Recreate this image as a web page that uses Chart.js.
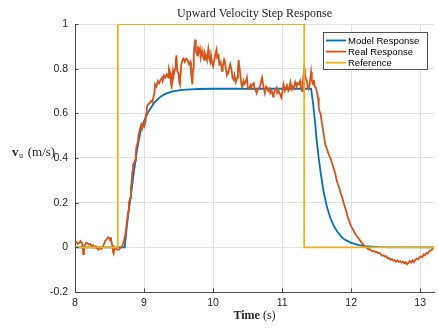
<!DOCTYPE html>
<html>
<head>
<meta charset="utf-8">
<script src="https://cdn.jsdelivr.net/npm/chart.js@4.4.1/dist/chart.umd.min.js"></script>
<style>
  body { margin: 0; background: #fff; }
  #grafico { display: block; }
</style>
</head>
<body>
<canvas id="grafico" width="438" height="329"></canvas>
<script>
// dados
var xTicks = [8, 9, 10, 11, 12, 13]
var yTicks = [-0.2, 0, 0.2, 0.4, 0.6, 0.8, 1]

var refTempo = [8, 8.62, 11.32, 13.2]
var refValor = [0, 1, 0, 0]

var modeloTempo = [8, 8.72, 8.75, 8.78, 8.80, 8.85, 8.90, 8.95, 9.00, 9.05, 9.10, 9.15, 9.20, 9.25, 9.30, 9.40, 9.50, 9.60, 9.80, 10.0,
    11.42, 11.45, 11.48, 11.50, 11.53, 11.56, 11.60, 11.65, 11.70, 11.75, 11.80, 11.85, 11.90, 12.0, 12.1, 12.2, 12.4, 13.2]
var modeloValor = [0, 0, 0.09, 0.17, 0.21, 0.33, 0.44, 0.52, 0.565, 0.60, 0.625, 0.648, 0.664, 0.677, 0.686, 0.697, 0.703, 0.706, 0.709, 0.71,
    0.71, 0.64, 0.55, 0.48, 0.40, 0.33, 0.25, 0.18, 0.13, 0.095, 0.07, 0.05, 0.036, 0.02, 0.011, 0.005, 0.001, 0]

var realTempo = [8.00, 8.02, 8.04, 8.06, 8.08, 8.10, 8.11, 8.12, 8.13, 8.14, 8.16, 8.18, 8.20, 8.22, 8.24, 8.26, 8.28, 8.30, 8.32, 8.34,
    8.36, 8.38, 8.40, 8.42, 8.44, 8.46, 8.48, 8.50, 8.51, 8.52, 8.53, 8.54, 8.55, 8.56, 8.57, 8.59, 8.61, 8.63, 8.65, 8.67,
    8.69, 8.71, 8.73, 8.75, 8.77, 8.78, 8.80, 8.81, 8.82, 8.83, 8.84, 8.86, 8.87, 8.88, 8.89, 8.91, 8.92, 8.94, 8.96, 8.97,
    8.99, 9.00, 9.02, 9.03, 9.04, 9.06, 9.08, 9.10, 9.12, 9.13, 9.15, 9.16, 9.18, 9.20, 9.22, 9.24, 9.26, 9.27, 9.29, 9.31,
    9.33, 9.35, 9.36, 9.38, 9.39, 9.40, 9.42, 9.43, 9.45, 9.46, 9.47, 9.48, 9.50, 9.51, 9.52, 9.54, 9.56, 9.57, 9.59, 9.61,
    9.63, 9.65, 9.67, 9.68, 9.70, 9.71, 9.72, 9.73, 9.74, 9.75, 9.77, 9.78, 9.79, 9.81, 9.82, 9.84, 9.85, 9.87, 9.88, 9.90,
    9.91, 9.93, 9.94, 9.96, 9.97, 9.99, 10.00, 10.02, 10.03, 10.05, 10.06, 10.08, 10.09, 10.11, 10.13, 10.14, 10.16, 10.17, 10.19, 10.20,
    10.22, 10.24, 10.25, 10.27, 10.28, 10.30, 10.31, 10.33, 10.35, 10.36, 10.37, 10.38, 10.40, 10.41, 10.42, 10.44, 10.45, 10.47, 10.49, 10.50,
    10.52, 10.54, 10.55, 10.57, 10.59, 10.60, 10.62, 10.63, 10.65, 10.67, 10.68, 10.70, 10.71, 10.73, 10.75, 10.77, 10.78, 10.80, 10.82, 10.83,
    10.85, 10.87, 10.88, 10.90, 10.92, 10.93, 10.95, 10.97, 10.99, 11.00, 11.02, 11.04, 11.05, 11.07, 11.09, 11.10, 11.12, 11.14, 11.15, 11.17,
    11.19, 11.21, 11.22, 11.24, 11.26, 11.27, 11.29, 11.30, 11.32, 11.33, 11.34, 11.36, 11.37, 11.38, 11.40, 11.41, 11.42, 11.43, 11.45, 11.46,
    11.47, 11.49, 11.50, 11.52, 11.53, 11.54, 11.56, 11.57, 11.59, 11.60, 11.62, 11.63, 11.65, 11.67, 11.69, 11.70, 11.72, 11.74, 11.76, 11.77,
    11.79, 11.81, 11.83, 11.85, 11.87, 11.89, 11.91, 11.93, 11.95, 11.97, 11.99, 12.01, 12.03, 12.05, 12.07, 12.09, 12.11, 12.13, 12.15, 12.17,
    12.19, 12.21, 12.23, 12.25, 12.27, 12.29, 12.31, 12.33, 12.35, 12.37, 12.39, 12.41, 12.43, 12.45, 12.47, 12.49, 12.51, 12.53, 12.55, 12.57,
    12.59, 12.61, 12.63, 12.65, 12.67, 12.69, 12.71, 12.73, 12.75, 12.77, 12.79, 12.81, 12.83, 12.85, 12.87, 12.89, 12.91, 12.93, 12.95, 12.97,
    12.99, 13.01, 13.03, 13.05, 13.07, 13.09, 13.11, 13.13, 13.15, 13.17, 13.19, 13.20]
var realValor = [0.02, 0.025, 0.015, 0.02, 0.028, 0.02, 0.0, -0.03, -0.02, 0.01, 0.02, 0.018, 0.012, 0.015, 0.005, 0.01, -0.002, 0.005, -0.005, -0.01,
    0.0, -0.008, 0.0, 0.015, 0.03, 0.035, 0.045, 0.04, 0.03, 0.045, 0.02, 0.01, -0.02, -0.028, -0.01, -0.005, -0.01, -0.012, -0.005, 0.0,
    0.01, 0.03, 0.06, 0.11, 0.16, 0.2, 0.22, 0.27, 0.29, 0.34, 0.37, 0.38, 0.39, 0.42, 0.45, 0.47, 0.5, 0.53, 0.55, 0.54,
    0.55, 0.54, 0.56, 0.6, 0.63, 0.64, 0.645, 0.655, 0.65, 0.665, 0.69, 0.73, 0.72, 0.745, 0.735, 0.75, 0.76, 0.745, 0.77, 0.76,
    0.775, 0.76, 0.8, 0.78, 0.73, 0.72, 0.79, 0.77, 0.8, 0.84, 0.86, 0.79, 0.78, 0.74, 0.73, 0.82, 0.84, 0.845, 0.83, 0.845,
    0.84, 0.82, 0.83, 0.78, 0.73, 0.8, 0.86, 0.9, 0.93, 0.88, 0.86, 0.9, 0.87, 0.89, 0.85, 0.88, 0.86, 0.84, 0.87, 0.85,
    0.84, 0.885, 0.85, 0.83, 0.86, 0.82, 0.81, 0.84, 0.86, 0.885, 0.85, 0.86, 0.82, 0.83, 0.79, 0.81, 0.84, 0.83, 0.79, 0.77,
    0.78, 0.81, 0.82, 0.79, 0.76, 0.75, 0.77, 0.74, 0.76, 0.8, 0.84, 0.81, 0.76, 0.73, 0.72, 0.745, 0.73, 0.74, 0.76, 0.72,
    0.71, 0.725, 0.715, 0.73, 0.735, 0.71, 0.70, 0.69, 0.71, 0.715, 0.72, 0.75, 0.76, 0.72, 0.69, 0.72, 0.715, 0.70, 0.71, 0.69,
    0.70, 0.675, 0.69, 0.705, 0.715, 0.69, 0.70, 0.685, 0.67, 0.69, 0.73, 0.70, 0.71, 0.725, 0.70, 0.705, 0.74, 0.71, 0.72, 0.71,
    0.74, 0.72, 0.735, 0.73, 0.745, 0.72, 0.70, 0.74, 0.80, 0.78, 0.76, 0.745, 0.72, 0.71, 0.73, 0.76, 0.785, 0.75, 0.73, 0.75,
    0.72, 0.715, 0.70, 0.67, 0.63, 0.61, 0.595, 0.57, 0.53, 0.51, 0.47, 0.455, 0.44, 0.42, 0.405, 0.40, 0.38, 0.36, 0.34, 0.33,
    0.30, 0.28, 0.265, 0.24, 0.225, 0.20, 0.18, 0.16, 0.135, 0.12, 0.10, 0.088, 0.078, 0.065, 0.055, 0.047, 0.04, 0.03, 0.022, 0.015,
    0.008, 0.002, -0.003, -0.01, -0.008, -0.015, -0.018, -0.016, -0.022, -0.02, -0.026, -0.024, -0.032, -0.038, -0.036, -0.042, -0.04, -0.05, -0.048, -0.056,
    -0.052, -0.06, -0.057, -0.064, -0.058, -0.066, -0.062, -0.068, -0.064, -0.072, -0.066, -0.076, -0.07, -0.06, -0.068, -0.058, -0.066, -0.055, -0.05, -0.054,
    -0.045, -0.04, -0.044, -0.032, -0.035, -0.025, -0.028, -0.018, -0.014, -0.01, -0.004, -0.002]

var azul = '#0072BD'
var laranja = '#D95319'
var amarelo = '#EDB120'
var corTexto = '#262626'
var fonteSerif = '"Liberation Serif", "DejaVu Serif", serif'
var fonteSans = '"Liberation Sans", Arial, sans-serif'
var espessura = 1.8

function pontos(tempos, valores) {
    var lista = []
    for (var i = 0; i < tempos.length; i++) {
        lista.push({ x: tempos[i], y: valores[i] })
    }
    return lista
}

// titulo, rotulos dos eixos, legenda e marcas internas
var extras = {
    id: 'extras',
    afterDraw: function (chart) {
        var ctx = chart.ctx
        var area = chart.chartArea
        var escX = chart.scales.x
        var escY = chart.scales.y
        var meio = (area.left + area.right) / 2

        ctx.save()
        // marcas dos ticks para dentro
        ctx.strokeStyle = '#4a4a4a'
        ctx.lineWidth = 1
        ctx.beginPath()
        xTicks.forEach(function (v) {
            var px = Math.round(escX.getPixelForValue(v)) + 0.5
            ctx.moveTo(px, area.bottom)
            ctx.lineTo(px, area.bottom - 3.5)
        })
        yTicks.forEach(function (v) {
            var py = Math.round(escY.getPixelForValue(v)) + 0.5
            ctx.moveTo(area.left, py)
            ctx.lineTo(area.left + 3.5, py)
        })
        ctx.stroke()

        ctx.fillStyle = corTexto
        ctx.textBaseline = 'middle'

        // titulo
        ctx.font = '12px ' + fonteSerif
        ctx.textAlign = 'center'
        ctx.fillText('Upward Velocity Step Response', meio, 14)

        // rotulo x: "Time (s)" com Time em negrito
        ctx.textAlign = 'left'
        ctx.font = 'bold 12px ' + fonteSerif
        var wTime = ctx.measureText('Time').width
        ctx.font = '12px ' + fonteSerif
        var wResto = ctx.measureText(' (s)').width
        var x0 = meio - (wTime + wResto) / 2
        ctx.font = 'bold 12px ' + fonteSerif
        ctx.fillText('Time', x0, 316)
        ctx.font = '12px ' + fonteSerif
        ctx.fillText(' (s)', x0 + wTime, 316)

        // rotulo y: v_u (m/s), horizontal
        var yl = 153
        ctx.font = 'bold 13px ' + fonteSerif
        ctx.fillText('v', 12, yl)
        var wv = ctx.measureText('v').width
        ctx.font = '8px ' + fonteSerif
        ctx.fillText('u', 12 + wv + 0.5, yl + 3)
        var wu = ctx.measureText('u').width
        ctx.font = '13px ' + fonteSerif
        ctx.fillText(' (m/s)', 12 + wv + wu + 2, yl)

        // legenda
        var lx = 323, ly = 32, lw = 104, lh = 37
        ctx.fillStyle = '#fff'
        ctx.fillRect(lx, ly, lw, lh)
        ctx.strokeStyle = corTexto
        ctx.lineWidth = 0.8
        ctx.strokeRect(lx + 0.5, ly + 0.5, lw, lh)
        ctx.font = '9.5px ' + fonteSans
        chart.data.datasets.forEach(function (ds, i) {
            var yy = ly + 8.5 + i * 11.1
            ctx.strokeStyle = ds.borderColor
            ctx.lineWidth = espessura
            ctx.beginPath()
            ctx.moveTo(lx + 3, yy)
            ctx.lineTo(lx + 23, yy)
            ctx.stroke()
            ctx.fillStyle = '#000'
            ctx.fillText(ds.label, lx + 25, yy + 0.5)
        })
        ctx.restore()
    }
}

var grafico = new Chart(document.getElementById('grafico'), {
    type: 'line',
    data: {
        datasets: [
            { label: 'Model Response', data: pontos(modeloTempo, modeloValor), borderColor: azul, borderWidth: espessura, order: 2 },
            { label: 'Real Response', data: pontos(realTempo, realValor), borderColor: laranja, borderWidth: espessura, order: 1 },
            { label: 'Reference', data: pontos(refTempo, refValor), borderColor: amarelo, borderWidth: espessura, stepped: 'before', order: 0 }
        ]
    },
    options: {
        responsive: false,
        animation: false,
        events: [],
        elements: { point: { radius: 0 }, line: { tension: 0, fill: false } },
        layout: { padding: { top: 24, left: 0, right: 4, bottom: 0 } },
        plugins: { legend: { display: false }, title: { display: false }, tooltip: { enabled: false } },
        scales: {
            x: {
                type: 'linear',
                min: 8,
                max: 13.2,
                afterFit: function (s) { s.height = 37 },
                ticks: {
                    stepSize: 1,
                    includeBounds: false,
                    padding: 5,
                    color: corTexto,
                    font: { family: fonteSans, size: 10.5 }
                },
                grid: { color: '#e1e1e1', drawTicks: false },
                border: { display: true, color: '#4a4a4a', width: 1 }
            },
            y: {
                min: -0.2,
                max: 1,
                afterFit: function (s) { s.width = 75 },
                afterBuildTicks: function (s) {
                    s.ticks = yTicks.map(function (v) { return { value: v } })
                },
                ticks: {
                    padding: 7,
                    color: corTexto,
                    font: { family: fonteSans, size: 10.5 },
                    callback: function (v) { return String(Math.round(v * 10) / 10) }
                },
                grid: { color: '#e1e1e1', drawTicks: false },
                border: { display: true, color: '#4a4a4a', width: 1 }
            }
        }
    },
    plugins: [extras]
})
</script>
</body>
</html>
